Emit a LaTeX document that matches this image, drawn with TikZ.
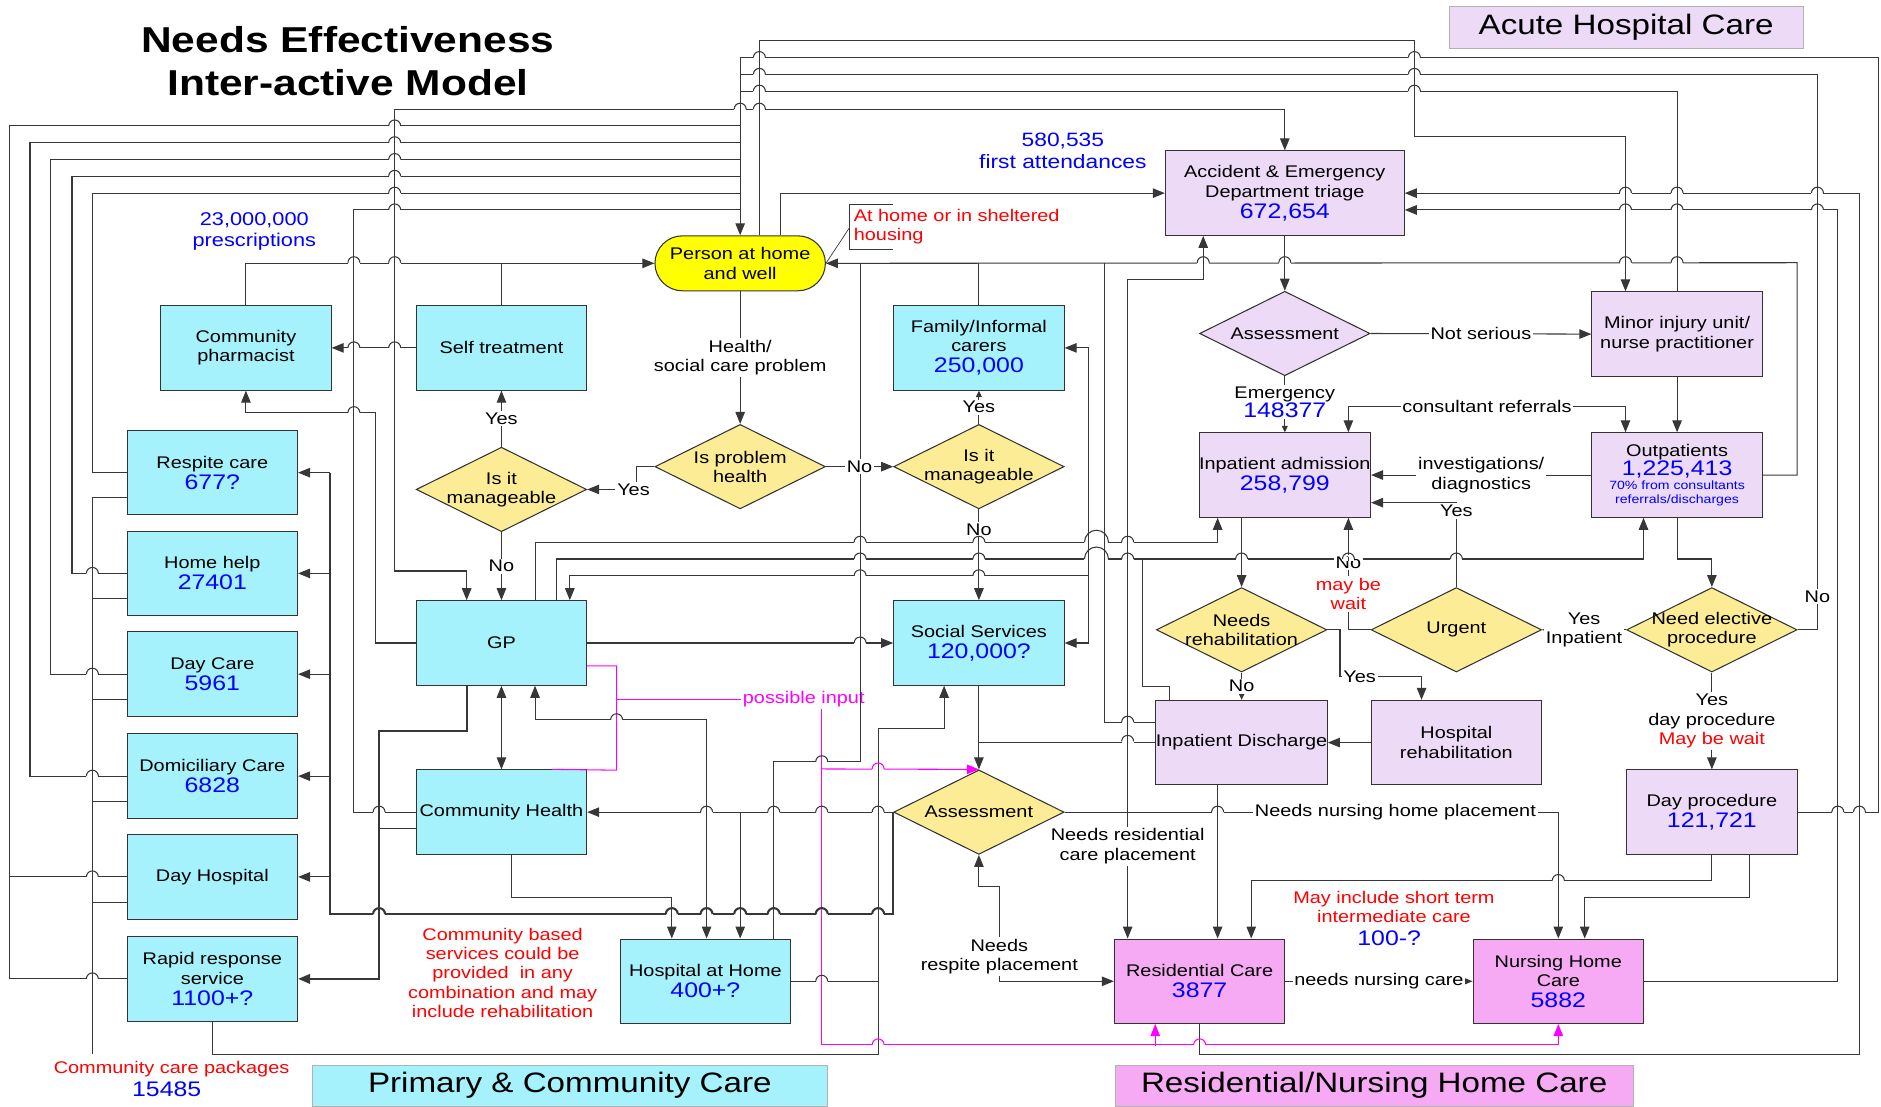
\documentclass[tikz,border=0pt]{standalone}
\usepackage{fontspec}
\setmainfont{Liberation Sans}[FakeStretch=1.18]
\usetikzlibrary{arrows.meta,positioning,shapes.geometric,calc}
\definecolor{boxcyan}{RGB}{166,242,252}
\definecolor{boxlilac}{RGB}{236,218,246}
\definecolor{boxpink}{RGB}{246,170,244}
\definecolor{diayellow}{RGB}{252,236,150}
\definecolor{homeyellow}{RGB}{255,255,0}
\definecolor{numblue}{RGB}{0,0,255}
\definecolor{notered}{RGB}{255,0,0}
\definecolor{linkmag}{RGB}{255,0,255}
\definecolor{wire}{RGB}{55,55,55}

\newcommand{\nodefont}{\fontsize{9.6}{11}\selectfont}
\newcommand{\bignum}[1]{{\fontsize{12}{13}\selectfont\color{numblue}#1}}
\newcommand{\tinyblue}[1]{{\fontsize{6.8}{7.5}\selectfont\color{numblue}#1}}
% line hop: radius, x, y, style of the hopping line, style of the crossed line
\newcommand{\hopgen}[5]{%
  \fill[white] (#2-#1,#3-1.3) rectangle (#2+#1,#3+1.3);
  \draw[#5] (#2,#3-1.6) -- (#2,#3+1.6);
  \draw[#4] (#2-#1,#3) arc[start angle=180, end angle=0, radius=#1*0.024cm];}
\newcommand{\hop}[2]{\hopgen{5}{#1}{#2}{wln}{wln}}

\begin{document}
\begin{tikzpicture}[x=0.024cm, y=-0.024cm,
  cbox/.style={rectangle, draw=black!80, line width=0.6pt, fill=boxcyan,
               minimum width=3.41cm, minimum height=1.69cm, inner sep=0pt,
               align=center, font=\nodefont},
  pbox/.style={cbox, fill=boxlilac},
  rbox/.style={cbox, fill=boxpink},
  qdia/.style={diamond, draw=black!80, line width=0.6pt, fill=diayellow,
               minimum width=3.41cm, minimum height=1.69cm, inner sep=0pt},
  adia/.style={qdia, fill=boxlilac},
  dtxt/.style={align=center, font=\nodefont, inner sep=0pt},
  wln/.style={draw=wire, line width=0.6pt},
  thk/.style={draw=wire, line width=1.2pt},
  mln/.style={draw=linkmag, line width=0.6pt},
  carr/.style={wln, -{Triangle[length=0.24cm, width=0.19cm]}},
  sarr/.style={wln, -{Triangle[length=0.13cm, width=0.12cm]}},
  darr/.style={wln, {Triangle[length=0.24cm, width=0.19cm]}-{Triangle[length=0.24cm, width=0.19cm]}},
  marr/.style={mln, -{Triangle[length=0.24cm, width=0.19cm]}},
  lbl/.style={fill=white, inner sep=1pt, align=center, font=\nodefont},
  rednote/.style={inner sep=1pt, align=center, font=\nodefont, text=notered},
  hdr/.style={draw=black!30, font=\fontsize{16}{18}\selectfont, inner sep=0pt}
]
\useasboundingbox (0,0) rectangle (1568,922);

% Titles
\node[font=\fontsize{20.5}{24.5}\selectfont\bfseries, align=center] (title) at (290,51) {Needs Effectiveness\\Inter-active Model};
\node[hdr, fill=boxlilac, minimum width=7.08cm, minimum height=0.84cm] (hacute) at (1355.5,22.5) {Acute Hospital Care};
\node[hdr, fill=boxcyan, minimum width=10.32cm, minimum height=0.82cm] (hprim) at (475,905) {Primary \& Community Care};
\node[hdr, fill=boxpink, minimum width=10.37cm, minimum height=0.82cm] (hres) at (1145.5,905) {Residential/Nursing Home Care};

% Left column services
\node[cbox] (resp)  at (177,394) {Respite care\\[1pt]\bignum{677?}};
\node[cbox] (hhelp) at (177,478) {Home help\\[1pt]\bignum{27401}};
\node[cbox] (dcare) at (177,562) {Day Care\\[1pt]\bignum{5961}};
\node[cbox] (domc)  at (177,647) {Domiciliary Care\\[1pt]\bignum{6828}};
\node[cbox] (dhosp) at (177,731) {Day Hospital};
\node[cbox] (rapid) at (177,816) {Rapid response\\service\\[1pt]\bignum{1100+?}};

% Primary care
\node[cbox] (pharm)   at (205,290) {Community\\pharmacist};
\node[cbox] (self)    at (418,290) {Self treatment};
\node[rectangle, rounded corners=0.55cm, draw=black!80, line width=0.6pt, fill=homeyellow,
      minimum width=3.41cm, minimum height=1.1cm, align=center, font=\nodefont] (person) at (617,219.5) {Person at home\\and well};
\node[cbox] (carers)  at (816,290) {Family/Informal\\carers\\[1pt]\bignum{250,000}};
\node[qdia, label={[dtxt]center:Is problem\\health}] (probh) at (617,389) {};
\node[qdia, label={[dtxt]center:Is it\\manageable}]  (manl)  at (418,408) {};
\node[qdia, label={[dtxt]center:Is it\\manageable}]  (manr)  at (816,389) {};
\node[cbox] (gp)      at (418,536) {GP};
\node[cbox] (soc)     at (816,536) {Social Services\\[1pt]\bignum{120,000?}};
\node[cbox] (chealth) at (418,677) {Community Health};
\node[qdia, label={[dtxt]center:Assessment}] (assess) at (816,677) {};
\node[cbox] (hah)     at (588,818) {Hospital at Home\\[1pt]\bignum{400+?}};

% Acute care
\node[pbox, minimum width=4.78cm] (ae) at (1071,161) {Accident \& Emergency\\Department triage\\[1pt]\bignum{672,654}};
\node[adia, label={[dtxt]center:Assessment}] (aeas) at (1071,278) {};
\node[pbox] (minor)  at (1398,278.5) {Minor injury unit/\\nurse practitioner};
\node[pbox] (inadm)  at (1071,396) {Inpatient admission\\[1pt]\bignum{258,799}};
\node[pbox] (outp)   at (1398,396) {Outpatients\\\bignum{1,225,413}\\[-3pt]\tinyblue{70\% from consultants}\\[-3pt]\tinyblue{referrals/discharges}};
\node[qdia, label={[dtxt]center:Needs\\rehabilitation}] (needreh) at (1035,525) {};
\node[qdia, label={[dtxt]center:Urgent}] (urgent) at (1214,525) {};
\node[qdia, label={[dtxt]center:Need elective\\procedure}] (elect) at (1427,525) {};
\node[pbox] (indis)  at (1035,619) {Inpatient Discharge};
\node[pbox] (hrehab) at (1214,619) {Hospital\\rehabilitation};
\node[pbox] (dayp)   at (1427,677) {Day procedure\\[1pt]\bignum{121,721}};

% Residential care
\node[rbox] (resc) at (1000,818) {Residential Care\\[1pt]\bignum{3877}};
\node[rbox] (nhc)  at (1299,818) {Nursing Home\\Care\\[1pt]\bignum{5882}};

% Notes
\node[align=center, text=numblue, font=\fontsize{10.5}{12}\selectfont] (presc) at (212,193) {23,000,000\\prescriptions};
\node[align=center, text=numblue, font=\fontsize{11}{12.5}\selectfont] (firstatt) at (886,126) {580,535\\first attendances};
\node[rednote, align=left, anchor=west] (shelt) at (710,189) {At home or in sheltered\\housing};
\node[rednote] (cbnote) at (419,811) {Community based\\services could be\\provided~~in any\\combination and may\\include rehabilitation};
\node[rednote] (ccp) at (143,891) {Community care packages};
\node[text=numblue, font=\fontsize{12}{13}\selectfont, inner sep=0pt] (ccpnum) at (139,908) {15485};
\node[rednote] (stnote) at (1162,756) {May include short term\\intermediate care};
\node[text=numblue, font=\fontsize{12}{13}\selectfont, inner sep=0pt] (stnum) at (1158,782) {100-?};
\node[font=\nodefont, text=linkmag, inner sep=1pt] (posin) at (670,583) {possible input};

% Callout for the person
\coordinate (callpt) at (708,190);
\draw[wln, line width=0.4pt] (744,170) -- (708,170) -- (708,208) -- (744,208);
\draw[wln, line width=0.4pt] (person.east) -- (callpt);

% Return lines into the person from above
\coordinate (homein) at (617,48);
\draw[carr] (homein) -- (person.north);
\draw[wln] (dayp.east) -| (1566,48) -- (homein);
\draw[wln] (elect.east) -| node[lbl, pos=0.53] (noel) {No} (1515,62) -- (617,62);
\draw[wln] (minor.north) |- (617,76);
\draw[wln] (dhosp.west) -| (8,105) -- (617,105);
\draw[wln] (rapid.west) -| (8,731);
\draw[wln] (domc.west) -| (25,119) -- (617,119);
\draw[wln] (dcare.west) -| (42,133) -- (617,133);
\draw[wln] (hhelp.west) -| (60,147) -- (617,147);
\draw[wln] (resp.west) -| (77,161) -- (617,161);
\draw[wln] (chealth.west) -| (295,175) -- (617,175);
\draw[wln] ($(chealth.west)+(0,14)$) -- (316,691);

% Person to acute services
\draw[darr] (ae.north) |- (329,91) -- (329,476) -| ($(gp.north)+(-29,0)$);
\draw[carr] ($(person.north)+(34,0)$) |- (ae.west);
\draw[carr] ($(person.north)+(16,0)$) |- (1179,34) |- (1355,114) -- ($(minor.north)+(-43,0)$);

% Return lines into the person from the right
\draw[carr] (outp.east) -| (1498,219) -- (person.east);
\draw[wln] (carers.north) -- (816,219);
\draw[wln] ($(hah.north)+(57,0)$) |- (717,635) -- (717,219);
\draw[wln] ($(indis.west)+(0,-17)$) -| (921,219);

% Self care
\draw[carr] (pharm.north) |- (person.west);
\draw[wln] (self.north) -- (self.north |- person.west);
\draw[carr] (self.west) -- (pharm.east);

% Decisions
\draw[carr] (person.south) -- node[lbl] (hsp) {Health/\\social care problem} (probh.north);
\draw[carr] (probh.west) -- ++(-15,0) |- node[lbl, pos=0.53] (yes1) {Yes} (manl.east);
\draw[carr] (probh.east) -- node[lbl] (no1) {No} (manr.west);
\draw[carr] (manl.north) -- node[lbl] (yes2) {Yes} (self.south);
\draw[carr] (manl.south) -- node[lbl] (no2) {No} (gp.north);
\draw[sarr] (manr.north) -- node[lbl] (yes3) {Yes} (carers.south);
\draw[carr] (manr.south) -- node[lbl, pos=0.22] (no3) {No} (soc.north);

% GP
\draw[carr] (gp.west) -| (313,344) -| (pharm.south);
\draw[carr] (gp.east) -- (soc.west);
\draw[darr] (gp.south) -- (chealth.north);
\draw[carr] ($(gp.north)+(28,0)$) |- (1015,452) -- ($(inadm.south)+(-56,0)$);
\draw[carr] ($(gp.north)+(46,0)$) |- (1370,466) -- ($(outp.south)+(-28,0)$);
\draw[wln] ($(indis.north)+(-60,0)$) -- ++(0,-11) -| (952,466);
\coordinate (carebus) at (907,480);
\draw[carr] (carebus) -| ($(gp.north)+(57,0)$);
\draw[carr] (carebus) |- (carers.east);
\draw[carr] (carebus) |- (soc.east);
\draw[darr] ($(gp.south)+(28,0)$) |- (589,600) -- ($(hah.north)+(1,0)$);
\draw[thk, -{Triangle[length=0.24cm, width=0.19cm]}] ($(gp.south)+(-29,0)$) |- (316,609) |- (rapid.east);
\draw[carr] ($(chealth.south)+(8,0)$) |- (560,748) -- ($(hah.north)+(-28,0)$);

% Social assessment
\draw[carr] (soc.south) -- (assess.north);
\draw[wln] (indis.west) -- (816,619);
\draw[carr] (assess.west) -- (chealth.east);
\coordinate (leftbus) at (275,394);
\draw[thk] (assess.west) |- (275,762) -- (leftbus);
\foreach \b in {resp,hhelp,dcare,domc,dhosp}
  \draw[carr] (\b.east -| leftbus) -- (\b.east);
\coordinate (hahin) at (617,677);
\draw[carr] (hahin) -- ($(hah.north)+(29,0)$);
\draw[darr] (assess.south) |- (833,739) |- node[lbl, pos=0.37] (respn) {Needs\\respite placement} (resc.west);
\draw[carr] (assess.east) -| (940,233) -| ($(ae.south)+(-68,0)$);
\coordinate (resj) at (940,677);
\draw[carr] (resj) -- node[lbl, pos=0.27] (resneed) {Needs residential\\care placement} ($(resc.north)+(-60,0)$);
\draw[carr] (assess.east) -| node[lbl, pos=0.335] (nhneed) {Needs nursing home placement} (nhc.north);

% Residential and nursing
\draw[carr] ($(indis.south)+(-20,0)$) -- ($(resc.north)+(15,0)$);
\draw[carr] (dayp.south) |- (1043,734) -- ($(resc.north)+(43,0)$);
\draw[carr] ($(dayp.south)+(31,0)$) |- (1321,748) -- ($(nhc.north)+(22,0)$);
\draw[carr] (resc.east) -- node[lbl] (nncare) {needs nursing care} (nhc.west);
\draw[carr] (resc.south) |- (1550,879) |- (ae.east);
\draw[carr] (nhc.east) -| (1532,175) -- ($(ae.east)+(0,14)$);

% Community packages to social services
\draw[carr] (rapid.south) |- (732,879) |- (787,607) -- ($(soc.south)+(-29,0)$);
\foreach \b in {resp,hhelp,dcare,domc,dhosp}
  \draw[wln] ($(\b.west)+(0,21)$) -| (77,879);
\draw[wln] (hah.east) -- (732,818);

% Acute flow
\draw[carr] (ae.south) -- (aeas.north);
\draw[carr] (aeas.east) -- node[lbl] (notser) {Not serious} (minor.west);
\draw[sarr] (aeas.south) -- node[lbl, pos=0.46] (emerg) {Emergency\\\bignum{148377}} (inadm.north);
\draw[darr] ($(inadm.north)+(53,0)$) |- node[lbl, pos=0.75] (consref) {consultant referrals} (1355,339) -- ($(outp.north)+(-43,0)$);
\draw[carr] (minor.south) -- (outp.north);
\draw[carr] (outp.west) -- node[lbl] (invdiag) {investigations/\\diagnostics} (inadm.east);
\draw[carr] (urgent.north) |- node[lbl, pos=0.45] (yes4) {Yes} ($(inadm.east)+(0,23)$);
\draw[carr] (urgent.west) -| node[lbl, pos=0.66, text=notered] (wait1) {may be\\wait} node[lbl, pos=0.8] (no4) {No} ($(inadm.south)+(53,0)$);
\draw[sarr] (elect.west) -- node[lbl] (yesinp) {Yes\\Inpatient} (urgent.east);
\draw[carr] (elect.south) -- node[lbl] (yesday) {Yes\\day procedure\\\textcolor{notered}{May be wait}} (dayp.north);
\draw[carr] (outp.south) |- (1427,466) -- (elect.north);
\draw[carr] ($(inadm.south)+(-36,0)$) -- (needreh.north);
\draw[carr] (needreh.east) -| (1117,564) -| node[lbl, pos=0.12] (yes5) {Yes} ($(hrehab.north)+(-29,0)$);
\draw[sarr] (needreh.south) -- node[lbl] (no5) {No} (indis.north);
\draw[carr] (hrehab.west) -- (indis.east);

% Possible input
\draw[mln] ($(gp.east)+(0,19)$) -| (514,642) -- ($(chealth.north east)+(-29,0)$);
\draw[mln] (514,583) -- (posin.west);
\draw[marr] ($(posin.south)+(15,0)$) |- (1299,871) -- (nhc.south);
\draw[marr] (685,641) -- (assess.north);
\draw[marr] ($(resc.south)+(-37,18)$) -- ($(resc.south)+(-37,0)$);

% Line hops
\foreach \hx/\hy in {329/105,329/119,329/133,329/147,329/161,329/175,
    617/91,633/91,633/48,633/62,633/76,1179/48,1179/62,1179/76,
    295/219,329/219,295/290,329/290,295/344,
    1355/161,1398/161,1515/161,1355/175,1398/175,1515/175,
    1003/219,1071/219,1355/219,1398/219,
    717/452,816/452,940/452,717/466,816/466,940/466,1035/466,1124/466,1214/466,
    717/480,816/480,717/536,940/602,940/618,
    732/677,645/677,589/677,1015/677,1299/734,1532/677,1550/677,
    77/478,77/562,77/647,77/731,77/816}
  {\hop{\hx}{\hy}}
\foreach \hy in {452,466} {
  \fill[white] (904,\hy-1.3) rectangle (924,\hy+1.3);
  \draw[wln] (907,\hy-1.6) -- (907,\hy+1.6) (921,\hy-1.6) -- (921,\hy+1.6);
  \draw[wln] (904,\hy) arc[start angle=180, end angle=0, radius=10*0.024cm];}
\foreach \hx/\hy in {514/600,685/635,685/677,685/818}
  {\hopgen{5}{\hx}{\hy}{wln}{mln}}
\foreach \hx in {732,645,617,589,560}
  {\hopgen{5}{\hx}{762}{thk}{wln}}
\hopgen{5}{685}{762}{thk}{mln}
\hopgen{5}{316}{762}{thk}{thk}
\hopgen{5}{316}{677}{wln}{thk}
\foreach \hx/\hy in {732/641,732/871,1000/871}
  {\hopgen{5}{\hx}{\hy}{mln}{wln}}
\end{tikzpicture}
\end{document}
